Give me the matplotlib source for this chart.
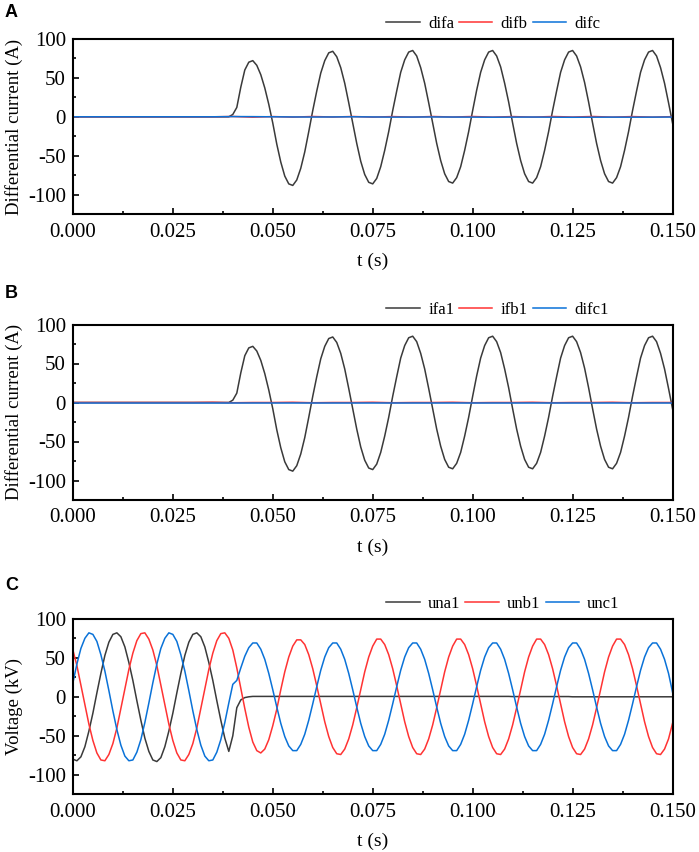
import numpy as np
import matplotlib.pyplot as plt

plt.rcParams['font.family'] = 'Liberation Serif'
plt.rcParams['axes.unicode_minus'] = False

# sample times: fine grid (1 ms) for the waveforms, coarse grid (5 ms) for the flat traces
t = np.arange(151) / 1000.0
t_c = np.arange(31) * 0.005

# panel A, phase a differential current (A), read every 1 ms
difa = [0] * 40 + [
    3, 12, 38, 60, 70, 72, 66, 54, 37, 16, -8, -35, -58, -76, -86, -88, -81, -66, -45, -19,
    8, 33, 56, 72, 82, 84, 77, 63, 43, 18, -8, -34, -57, -74, -84, -86, -79, -64, -43, -19,
    8, 33, 57, 73, 83, 85, 78, 63, 43, 18, -8, -34, -56, -73, -83, -85, -78, -64, -43, -19,
    8, 34, 57, 73, 83, 85, 78, 64, 43, 19, -8, -34, -56, -73, -83, -85, -78, -64, -43, -19,
    8, 33, 57, 73, 83, 85, 78, 64, 44, 19, -8, -34, -56, -73, -83, -85, -78, -64, -43, -19,
    8, 33, 57, 73, 83, 85, 78, 63, 43, 18, -8]
difb = [0, 0, 0, 0, 0, 0, 0, 0, 0.4, -0.5, 0.3, -0.4, 0.4, -0.3, 0.4, -0.4,
        0.3, -0.4, 0.4, -0.3, 0.4, -0.4, 0.3, -0.4, 0.4, -0.3, 0.4, -0.4, 0.3, -0.4, 0.2]
difc = [0, 0, 0, 0, 0, 0, 0, 0, 0.3, 0.2, 0, -0.2, -0.3, -0.2, 0, -0.2,
        -0.4, -0.3, -0.2, -0.3, -0.4, -0.5, -0.4, -0.3, -0.5, -0.6, -0.5, -0.4, -0.5, -0.4, -0.3]

# panel B, the phase a trace reads the same as in panel A
ifa1 = list(difa)
ifb1 = [0, 0, 0, 0, 0, 0, 0, 0.3, -0.3, 0, 0, 0.3, -0.3, 0, 0, 0.3,
        -0.3, 0, 0, 0.3, -0.3, 0, 0, 0.3, -0.3, 0, 0, 0.3, -0.3, 0, 0]
difc1 = [0] * 31

# panel C, voltages (kV), read every 1 ms
una1 = [
    -80, -82, -77, -64, -44, -21, 5, 30, 53, 70, 80, 82, 77, 64, 44, 21, -5, -30, -53, -70,
    -81, -83, -78, -64, -44, -21, 5, 30, 53, 70, 80, 82, 77, 64, 44, 21, -5, -30, -53, -70,
    -50, -14, -4, -1, 0, 0.5, 0.5, 0.5, 0.5, 0.5,
    0.5, 0.5, 0.5, 0.5, 0.5, 0.5, 0.5, 0.5, 0.5, 0.5, 0.5, 0.5, 0.5, 0.5, 0.5, 0.5, 0.5, 0.5, 0.5, 0.5,
    0.5, 0.5, 0.5, 0.5, 0.5, 0.5, 0.5, 0.5, 0.5, 0.5, 0.5, 0.5, 0.5, 0.5, 0.5, 0.5, 0.5, 0.5, 0.5, 0.5,
    0.5, 0.5, 0.5, 0.5, 0.5, 0.5, 0.5, 0.5, 0.5, 0.5, 0.5, 0.5, 0.5, 0.5, 0.5, 0.5, 0.5, 0.5, 0.5, 0.5,
    0.3, 0.3, 0.3, 0.3, 0.3, 0.3, 0.3, 0.3, 0.3, 0.3, 0.3, 0.3, 0.3, 0.3, 0.3, 0, 0, 0, 0, 0,
    0, 0, 0, 0, 0, 0, 0, 0, 0, 0, 0, 0, 0, 0, 0, 0, 0, 0, 0, 0, 0]
unb1 = [
    60, 40, 15, -10, -35, -56, -72, -81, -82, -74, -60, -40, -15, 10, 35, 56, 72, 81, 82, 74,
    60, 40, 15, -10, -35, -56, -72, -81, -82, -74, -60, -40, -15, 10, 35, 56, 72, 81,
    82, 75, 60, 37, 11, -15, -39, -58, -69, -72, -67, -55, -37, -16,
    9, 32, 51, 65, 73,
    73, 67, 54, 36, 14, -9, -32, -51, -65, -73, -74, -67, -54, -36, -14, 9, 32, 51, 65, 74,
    74, 67, 54, 36, 14, -9, -32, -51, -65, -73, -74, -67, -54, -36, -14, 9, 32, 51, 65, 74,
    74, 67, 54, 36, 14, -9, -32, -51, -65, -73, -74, -67, -54, -36, -14, 9, 32, 51, 65, 74,
    74, 67, 54, 36, 14, -9, -32, -51, -65, -73, -74, -67, -54, -36, -14, 9, 32, 51, 65, 74,
    74, 67, 54, 36, 14, -9, -32, -51, -65, -73, -74, -67, -54, -34]
unc1 = [
    18, 42, 62, 75, 82, 80, 71, 54, 33, 8, -18, -42, -62, -76, -82, -81, -71, -55, -33, -8,
    18, 42, 62, 75, 82, 80, 71, 54, 33, 8, -18, -42, -62, -76, -82, -81, -71, -55, -33, -8,
    16, 21, 37, 52, 63, 69,
    69, 61, 48, 30, 9, -13, -34, -51, -63, -69, -69, -61, -48, -30, -9, 13, 34, 51, 63, 69,
    69, 61, 48, 30, 9, -13, -34, -51, -63, -69, -69, -61, -48, -30, -9, 13, 34, 51, 63, 69,
    69, 61, 48, 30, 9, -13, -34, -51, -63, -69, -69, -61, -48, -30, -9, 13, 34, 51, 63, 69,
    69, 61, 48, 30, 9, -13, -34, -51, -63, -69, -69, -61, -48, -30, -9, 13, 34, 51, 63, 69,
    69, 61, 48, 30, 9, -13, -34, -51, -63, -69, -69, -61, -48, -30, -9, 13, 34, 51, 63, 69,
    69, 61, 48, 30, 6]

GRAY = '#3a3a3a'
RED = '#ff3333'
BLUE = '#0a72d8'

fig = plt.figure(figsize=(6.99, 8.52), dpi=100)

W = 700.0
H = 852.0
left = 73 / W
width = 600.5 / W
height = 175.5 / H
bottoms = [1 - 214.3 / H, 1 - 500 / H, 1 - 794.3 / H]


def setup(ax, ylabel, letter, letter_y):
    ax.set_xlim(0, 0.150)
    ax.set_ylim(-125, 100)
    ax.set_xticks(np.arange(0, 0.1501, 0.025))
    ax.set_xticks(np.arange(0.0125, 0.15, 0.025), minor=True)
    ax.set_yticks([-100, -50, 0, 50, 100])
    ax.set_yticks([-125, -75, -25, 25, 75], minor=True)
    ax.xaxis.set_major_formatter(plt.FormatStrFormatter('%.3f'))
    ax.tick_params(which='both', direction='in', top=False, right=False,
                   labelsize=15, width=1.2)
    ax.tick_params(which='major', length=4.5, pad=5)
    ax.tick_params(which='minor', length=2.5)
    ax.tick_params(axis='x', which='major', pad=6)
    for s in ax.spines.values():
        s.set_linewidth(1.5)
    ax.set_xlabel('t (s)', fontsize=14, labelpad=8)
    ax.set_ylabel(ylabel, fontsize=13.5)
    ax.yaxis.set_label_coords(-0.084, 0.5)
    ax.legend(loc='center left', bbox_to_anchor=((387 - 73) / 600.5, 1 + 15 / 175.5),
              ncol=3, frameon=False, fontsize=12, handlelength=2.0,
              handletextpad=0.5, columnspacing=0.3, borderpad=0, borderaxespad=0)
    fig.text(5 / W, letter_y, letter, family='Liberation Sans', weight='bold',
             fontsize=13, va='center', ha='left')


axA = fig.add_axes([left, bottoms[0], width, height])
axA.plot(t, difa, color=GRAY, lw=1.1, label='difa')
axA.plot(t_c, difb, color=RED, lw=1.1, label='difb')
axA.plot(t_c, difc, color=BLUE, lw=1.1, label='difc')
setup(axA, 'Differential current (A)', 'A', 1 - 12.5 / H)

axB = fig.add_axes([left, bottoms[1], width, height])
axB.plot(t, ifa1, color=GRAY, lw=1.1, label='ifa1')
axB.plot(t_c, ifb1, color=RED, lw=1.1, label='ifb1')
axB.plot(t_c, difc1, color=BLUE, lw=1.1, label='difc1')
setup(axB, 'Differential current (A)', 'B', 1 - 293.5 / H)

axC = fig.add_axes([left, bottoms[2], width, height])
axC.plot(t, una1, color=GRAY, lw=1.1, label='una1')
axC.plot(t, unb1, color=RED, lw=1.1, label='unb1')
axC.plot(t, unc1, color=BLUE, lw=1.1, label='unc1')
setup(axC, 'Voltage (kV)', 'C', 1 - 585 / H)

fig.savefig('out.png', dpi=100)
